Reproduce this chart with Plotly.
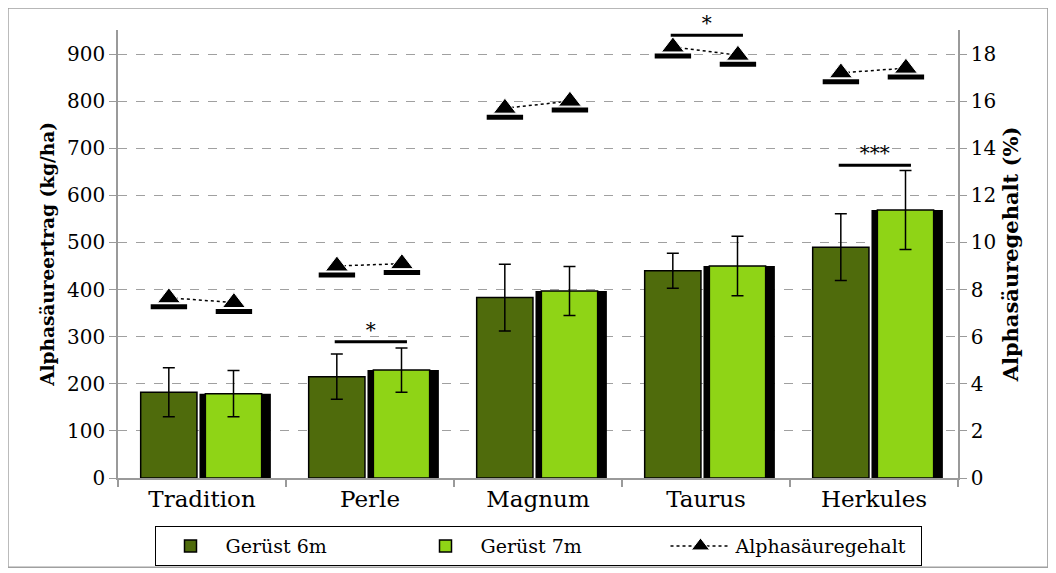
import plotly.graph_objects as go

# Sorten und Messwerte
sorten = ['Tradition', 'Perle', 'Magnum', 'Taurus', 'Herkules']
ertrag_6m = [182, 215, 383, 440, 490]
ertrag_6m_se = [52, 48, 71, 37, 71]
ertrag_7m = [179, 229, 397, 450, 569]
ertrag_7m_se = [49, 47, 52, 63, 84]
alpha_6m = [7.65, 9.0, 15.7, 18.3, 17.2]
alpha_7m = [7.45, 9.1, 16.0, 17.95, 17.4]

# Signifikanzen (Ertrag)
sig_sorten = ['Perle', 'Taurus', 'Herkules']
sig_hoehe = [289, 940, 664]
sig_label = ['*', '*', '***']

FONT = 'DejaVu Serif'
DARK = '#4f6b0c'
LIGHT = '#8fd416'

idx = list(range(len(sorten)))
x6 = [i - 0.197 for i in idx]
x7 = [i + 0.19 for i in idx]

fig = go.Figure()

# Schatten hinter den hellen Balken
fig.add_trace(go.Bar(
    x=idx, y=ertrag_7m, offset=-0.015, width=0.425,
    marker=dict(color='black', line=dict(width=0)),
    showlegend=False, hoverinfo='skip'))

fig.add_trace(go.Bar(
    x=idx, y=ertrag_6m, offset=-0.365, width=0.335, name='Gerüst 6m',
    marker=dict(color=DARK, line=dict(color='black', width=1.5)),
    error_y=dict(type='data', array=ertrag_6m_se, color='black', thickness=1.5, width=6)))

fig.add_trace(go.Bar(
    x=idx, y=ertrag_7m, offset=0.02, width=0.335, name='Gerüst 7m',
    marker=dict(color=LIGHT, line=dict(color='black', width=1.5)),
    error_y=dict(type='data', array=ertrag_7m_se, color='black', thickness=1.5, width=6)))

# Alphasäuregehalt: je Sorte ein Paar 6m -> 7m
ax, ay = [], []
for i in idx:
    ax += [x6[i], x7[i], None]
    ay += [alpha_6m[i], alpha_7m[i], None]

# Schattensockel unter den Dreiecken
sockel = 0.38
fig.add_trace(go.Scatter(
    x=ax, y=[v - sockel if v is not None else None for v in ay], yaxis='y2',
    mode='markers', showlegend=False, hoverinfo='skip',
    marker=dict(symbol='line-ew', size=26, line=dict(color='black', width=5))))

fig.add_trace(go.Scatter(
    x=ax, y=ay, yaxis='y2', mode='lines+markers', name='Alphasäuregehalt',
    line=dict(color='black', width=1.5, dash='dot'),
    marker=dict(symbol='triangle-up', size=20, color='black',
                line=dict(color='white', width=1))))

# Signifikanzbalken
for s, h, lab in zip(sig_sorten, sig_hoehe, sig_label):
    i = sorten.index(s)
    fig.add_trace(go.Scatter(
        x=[i - 0.21, i + 0.22], y=[h, h], mode='lines', cliponaxis=False,
        line=dict(color='black', width=3), showlegend=False, hoverinfo='skip'))
    fig.add_trace(go.Scatter(
        x=[i + 0.005], y=[h], mode='text', text=[lab], textposition='top center',
        cliponaxis=False,
        textfont=dict(family=FONT, size=20, color='black'),
        showlegend=False, hoverinfo='skip'))

axis_grey = '#9a9a9a'
fig.update_layout(
    width=1056, height=573,
    margin=dict(l=110, r=106, t=22, b=103),
    paper_bgcolor='white', plot_bgcolor='white',
    barmode='overlay',
    font=dict(family=FONT, size=20, color='black'),
    xaxis=dict(
        range=[-0.5, 4.5], tickvals=idx, ticktext=sorten, ticks='',
        tickfont=dict(size=23), showgrid=False, zeroline=False, automargin=False,
        showline=True, linecolor=axis_grey, linewidth=1.5,
        minor=dict(tickvals=[i - 0.5 for i in range(len(sorten) + 1)],
                   ticks='outside', ticklen=7, tickcolor=axis_grey, tickwidth=1.5)),
    yaxis=dict(
        range=[0, 951], dtick=100, tickfont=dict(size=20), automargin=False,
        title=dict(text='<b>Alphasäureertrag (kg/ha)</b>', font=dict(size=18.5), standoff=8),
        showgrid=True, gridcolor='#a0a0a0', griddash='dash', gridwidth=1,
        zeroline=False, showline=True, linecolor=axis_grey, linewidth=1.5,
        ticks='outside', ticklen=7, tickcolor=axis_grey),
    yaxis2=dict(
        range=[0, 19.02], dtick=2, overlaying='y', side='right', automargin=False,
        tickfont=dict(size=20),
        title=dict(text='<b>Alphasäuregehalt (%)</b>', font=dict(size=21), standoff=8),
        showgrid=False, zeroline=False, showline=True, linecolor=axis_grey, linewidth=1.5,
        ticks='outside', ticklen=7, tickcolor=axis_grey),
    legend=dict(
        orientation='h', x=0.5, xanchor='center', y=-0.152, yanchor='middle',
        bordercolor='black', borderwidth=1, font=dict(size=19),
        itemwidth=60, entrywidth=180, tracegroupgap=0),
    shapes=[dict(type='rect', xref='paper', yref='paper',
                 x0=-0.131, x1=1.107, y0=-0.199, y1=1.049,
                 line=dict(color='#a0a0a0', width=1.5))],
)

fig.write_html('out.html')
